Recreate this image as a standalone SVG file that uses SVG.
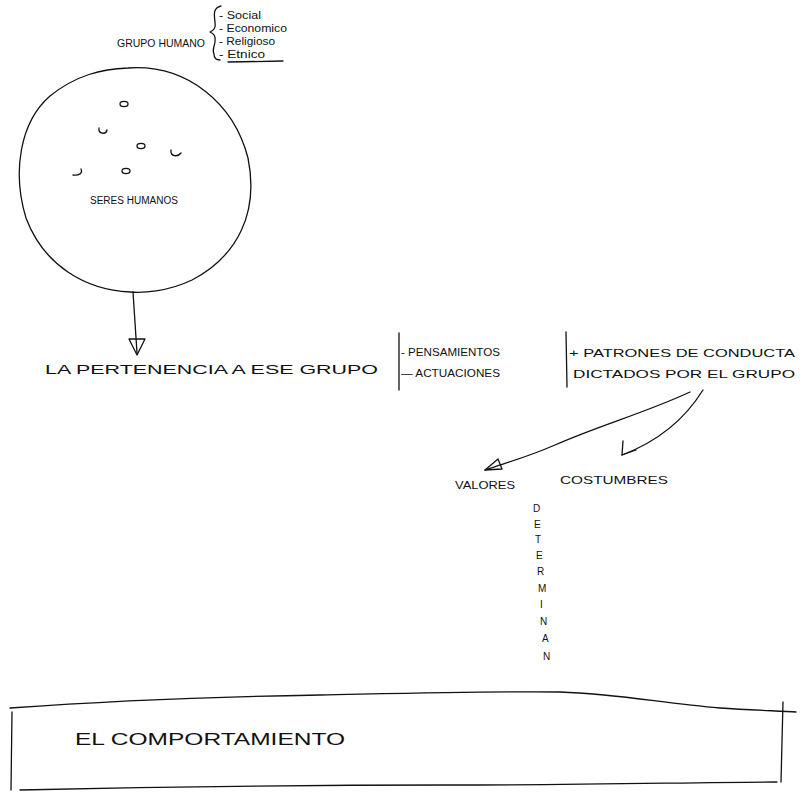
<svg xmlns="http://www.w3.org/2000/svg" width="803" height="792" viewBox="0 0 803 792">
<style>
.t{font-family:"Liberation Sans","DejaVu Sans",sans-serif;fill:#111;}
.s{fill:none;stroke:#111;stroke-width:1.3;stroke-linecap:round;stroke-linejoin:round;}
</style>
<rect width="803" height="792" fill="#fff"/>
<g id="grupo-humano">
<text class="t" x="117" y="47" font-size="11" textLength="88" lengthAdjust="spacingAndGlyphs">GRUPO HUMANO</text>
<path class="s" d="M221,6 C213,8 214,14 215,22 C216,28 214,30 210,32 C214,34 216,36 215,42 C214,48 212,50 214,54 C214,58 216,60 220,60"/>
<text class="t" x="219" y="19" font-size="10" textLength="42" lengthAdjust="spacingAndGlyphs">- Social</text>
<text class="t" x="219" y="32" font-size="10" textLength="68" lengthAdjust="spacingAndGlyphs">- Economico</text>
<text class="t" x="219" y="45" font-size="10" textLength="56" lengthAdjust="spacingAndGlyphs">- Religioso</text>
<text class="t" x="219" y="58" font-size="10" textLength="46" lengthAdjust="spacingAndGlyphs">- Etnico</text>
<path class="s" d="M228,62 L283,61"/>
</g>
<g id="seres-humanos">
<path class="s" d="M128,68 C188,64 234,104 248,158 C259,212 238,256 192,280 C167,292 142,293 130,292 C86,290 44,266 26,218 C12,172 20,122 50,96 C76,75 102,69 128,68 Z"/>
<ellipse class="s" cx="124" cy="104" rx="4" ry="2.6"/>
<path class="s" d="M99,128 C98,134 106,135 107,130"/>
<ellipse class="s" cx="141" cy="146" rx="4" ry="2.6"/>
<path class="s" d="M171,150 C170,157 178,157 181,153"/>
<path class="s" d="M73,175 C79,176 83,173 81,169"/>
<ellipse class="s" cx="126" cy="171" rx="4" ry="2.6"/>
<text class="t" x="90" y="204" font-size="10" textLength="88" lengthAdjust="spacingAndGlyphs">SERES HUMANOS</text>
</g>
<g id="pertenencia">
<text class="t" x="45" y="374" font-size="13" textLength="333" lengthAdjust="spacingAndGlyphs">LA PERTENENCIA A ESE GRUPO</text>
<path class="s" d="M399,333 L399,390"/>
<text class="t" x="401" y="356" font-size="11" textLength="99" lengthAdjust="spacingAndGlyphs">- PENSAMIENTOS</text>
<text class="t" x="401" y="377" font-size="11" textLength="99" lengthAdjust="spacingAndGlyphs">— ACTUACIONES</text>
<path class="s" d="M566,332 L567,387"/>
<text class="t" x="569" y="357" font-size="11" textLength="226" lengthAdjust="spacingAndGlyphs">+ PATRONES DE CONDUCTA</text>
<text class="t" x="573" y="378" font-size="11" textLength="222" lengthAdjust="spacingAndGlyphs">DICTADOS POR EL GRUPO</text>
</g>
<g id="valores">
<text class="t" x="455" y="489" font-size="11" textLength="60" lengthAdjust="spacingAndGlyphs">VALORES</text>
</g>
<g id="costumbres">
<text class="t" x="560" y="484" font-size="11" textLength="108" lengthAdjust="spacingAndGlyphs">COSTUMBRES</text>
</g>
<g id="determinan" class="t" font-size="10">
<text x="533" y="512">D</text>
<text x="534" y="528">E</text>
<text x="535" y="543">T</text>
<text x="536" y="559">E</text>
<text x="537" y="575">R</text>
<text x="538" y="592">M</text>
<text x="540" y="608">I</text>
<text x="540" y="625">N</text>
<text x="542" y="642">A</text>
<text x="543" y="660">N</text>
</g>
<g id="comportamiento">
<path class="s" d="M10,708 C80,703 200,697 320,695 C420,693 500,691 560,692 C620,694 660,703 720,708 C750,710 780,711 796,712"/>
<path class="s" d="M12,712 L11,790"/>
<path class="s" d="M783,702 L781,782"/>
<path class="s" d="M20,790 C150,787 300,785 450,785 C600,785 700,782 777,782"/>
<text class="t" x="75" y="745" font-size="17" textLength="270" lengthAdjust="spacingAndGlyphs">EL COMPORTAMIENTO</text>
</g>
<g id="connectors">
<path class="s" d="M133,292 L137,353"/>
<path class="s" d="M129,339 L145,339 L137,355 Z"/>
<path class="s" d="M690,392 C645,413 600,425 555,445 C525,458 505,463 485,470"/>
<path class="s" d="M485,470 L502,469 L498,459 Z"/>
<path class="s" d="M703,390 Q675,435 622,455"/>
<path class="s" d="M622,455 L623,441 M622,455 L636,450"/>
</g>
</svg>
